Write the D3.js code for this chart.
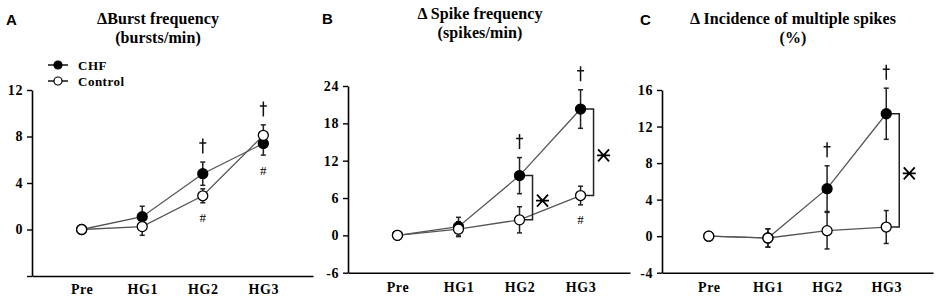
<!DOCTYPE html>
<html lang="en">
<head>
<meta charset="UTF-8">
<title>Delta MSNA responses during handgrip</title>
<style>
  body { margin: 0; background: #fff; }
  .serif { font-family: "Liberation Serif", "Times New Roman", serif; font-weight: bold; }
  .letter { font-family: "Liberation Sans", Arial, sans-serif; font-weight: bold; }
</style>
</head>
<body>
<div id="my_dataviz"></div>

<script src="https://d3js.org/d3.v7.min.js"></script>
<script>
// categories on the x axis
const categories = ["Pre", "HG1", "HG2", "HG3"];

// A: burst frequency (bursts/min)
const burstCHF = [0, 1.1, 4.8, 7.4];
const burstCHFErr = [0, 0.9, 1.0, 1.0];
const burstControl = [0, 0.25, 2.9, 8.1];
const burstControlErr = [0, 0.75, 0.6, 0.9];
const burstTicks = [-4, 0, 4, 8, 12];
const burstDaggers = ["HG2", "HG3"];
const burstHashes = ["HG2", "HG3"];
const burstBrackets = [];

// B: spike frequency (spikes/min)
const spikeCHF = [0, 1.4, 9.6, 20.3];
const spikeCHFErr = [0, 1.5, 2.9, 3.1];
const spikeControl = [0, 1.0, 2.5, 6.4];
const spikeControlErr = [0, 1.2, 2.1, 1.5];
const spikeTicks = [-6, 0, 6, 12, 18, 24];
const spikeDaggers = ["HG2", "HG3"];
const spikeHashes = ["HG3"];
const spikeBrackets = ["HG2", "HG3"];

// C: incidence of multiple spikes (%)
const multiCHF = [0, -0.2, 5.2, 13.4];
const multiCHFErr = [0, 1.0, 2.5, 2.8];
const multiControl = [0, -0.2, 0.6, 1.0];
const multiControlErr = [0, 1.0, 2.0, 1.8];
const multiTicks = [-4, 0, 4, 8, 12, 16];
const multiDaggers = ["HG2", "HG3"];
const multiHashes = [];
const multiBrackets = ["HG3"];

const panels = [
  { letter: "A", title: ["\u0394Burst frequency", "(bursts/min)"],
    chf: burstCHF, chfErr: burstCHFErr, ctl: burstControl, ctlErr: burstControlErr,
    ticks: burstTicks, hidden: [-4], daggers: burstDaggers, hashes: burstHashes, brackets: burstBrackets,
    legend: true },
  { letter: "B", title: ["\u0394 Spike frequency", "(spikes/min)"],
    chf: spikeCHF, chfErr: spikeCHFErr, ctl: spikeControl, ctlErr: spikeControlErr,
    ticks: spikeTicks, hidden: [], daggers: spikeDaggers, hashes: spikeHashes, brackets: spikeBrackets,
    legend: false },
  { letter: "C", title: ["\u0394 Incidence of multiple spikes", "(%)"],
    chf: multiCHF, chfErr: multiCHFErr, ctl: multiControl, ctlErr: multiControlErr,
    ticks: multiTicks, hidden: [], daggers: multiDaggers, hashes: multiHashes, brackets: multiBrackets,
    legend: false }
];

// where each panel sits on the page
const layouts = [
  { left: 32, right: 313, top: 90, bottom: 276, pad: 0.82, lx: 6, ly: 25, tx: 158, ty: 24, xpad: 8 },
  { left: 348, right: 630, top: 86, bottom: 272.7, pad: 0.81, lx: 322, ly: 24, tx: 480, ty: 19, xpad: 9 },
  { left: 662, right: 933, top: 90, bottom: 272.7, pad: 0.79, lx: 640, ly: 25, tx: 793, ty: 24, xpad: 9 }
];

const svg = d3.select("#my_dataviz")
  .append("svg")
    .attr("width", 939)
    .attr("height", 300);

svg.append("rect").attr("width", 939).attr("height", 300).attr("fill", "#fff");

function asterisk(g, cx, cy) {
  g.append("path").attr("transform", `translate(${cx},${cy})`)
    .attr("d", "M-6.5,0H6.5M-5.5,-6L5.5,6M-5.5,6L5.5,-6")
    .attr("stroke", "#000").attr("stroke-width", 1.8).attr("fill", "none");
}

function dagger(g, cx, cy) {
  g.append("path").attr("transform", `translate(${cx},${cy})`)
    .attr("d", "M0,-7.5V7.5M-3.5,-3H3.5")
    .attr("stroke", "#111").attr("stroke-width", 1.5).attr("fill", "none");
}

panels.forEach(function(p, i) {
  const L = layouts[i];
  const g = svg.append("g");

  const x = d3.scalePoint()
    .domain(categories)
    .range([L.left, L.right])
    .padding(L.pad);

  const y = d3.scaleLinear()
    .domain([p.ticks[0], p.ticks[p.ticks.length - 1]])
    .range([L.bottom, L.top]);

  // panel letter and title
  g.append("text").attr("class", "letter").attr("x", L.lx).attr("y", L.ly)
    .style("font-size", "15px").text(p.letter);
  p.title.forEach(function(t, k) {
    g.append("text").attr("class", "serif")
      .attr("x", L.tx).attr("y", L.ty + k * 18.5)
      .attr("text-anchor", "middle")
      .style("font-size", "16px").style("letter-spacing", "0.1px")
      .text(t);
  });

  // axes
  const yAxis = g.append("g")
    .attr("transform", `translate(${L.left},0)`)
    .call(d3.axisLeft(y).tickValues(p.ticks).tickSize(5).tickSizeOuter(0).tickPadding(4)
      .tickFormat(d => p.hidden.includes(d) ? "" : d));
  const xAxis = g.append("g")
    .attr("transform", `translate(0,${L.bottom})`)
    .call(d3.axisBottom(x).tickSize(0).tickSizeOuter(0).tickPadding(L.xpad));
  [yAxis, xAxis].forEach(function(a) {
    a.select(".domain").attr("stroke", "#000").attr("stroke-width", 1.6);
    a.selectAll(".tick line").attr("stroke", "#000").attr("stroke-width", 1.4);
    a.selectAll("text").attr("class", "serif").attr("fill", "#000")
      .style("font-size", "14px").style("letter-spacing", "0.6px");
  });

  const series = [
    { v: p.chf, e: p.chfErr, fill: "#000" },
    { v: p.ctl, e: p.ctlErr, fill: "#fff" }
  ];

  const line = d3.line()
    .x((d, j) => x(categories[j]))
    .y(d => y(d));

  // connecting lines
  series.forEach(function(s) {
    g.append("path").datum(s.v)
      .attr("d", line)
      .attr("fill", "none").attr("stroke", "#555").attr("stroke-width", 1.3);
  });

  // error bars
  series.forEach(function(s) {
    const eb = g.append("g").attr("stroke", "#222").attr("stroke-width", 1.5);
    categories.forEach(function(c, j) {
      if (!s.e[j]) return;
      const cx = x(c), y1 = y(s.v[j] + s.e[j]), y2 = y(s.v[j] - s.e[j]);
      eb.append("line").attr("x1", cx).attr("x2", cx).attr("y1", y1).attr("y2", y2);
      eb.append("line").attr("x1", cx - 2.5).attr("x2", cx + 2.5).attr("y1", y1).attr("y2", y1);
      eb.append("line").attr("x1", cx - 2.5).attr("x2", cx + 2.5).attr("y1", y2).attr("y2", y2);
    });
  });

  // brackets between groups
  p.brackets.forEach(function(c) {
    const j = categories.indexOf(c);
    const cx = x(c), bx = cx + 13;
    const yA = y(p.chf[j]), yB = y(p.ctl[j]);
    g.append("path")
      .attr("d", `M${cx + 5},${yA}H${bx}V${yB}H${cx + 5}`)
      .attr("fill", "none").attr("stroke", "#222").attr("stroke-width", 1.5);
    asterisk(g, bx + 10, (yA + yB) / 2 + 3);
  });

  // markers
  series.forEach(function(s) {
    g.selectAll(null).data(s.v).join("circle")
      .attr("cx", (d, j) => x(categories[j]))
      .attr("cy", d => y(d))
      .attr("r", 5)
      .attr("fill", s.fill).attr("stroke", "#000").attr("stroke-width", 1.3);
  });

  // significance symbols
  p.daggers.forEach(function(c) {
    const j = categories.indexOf(c);
    const top = Math.max(p.chf[j] + p.chfErr[j], p.ctl[j] + p.ctlErr[j]);
    dagger(g, x(c), y(top) - 16);
  });
  p.hashes.forEach(function(c) {
    const j = categories.indexOf(c);
    const bot = Math.min(p.chf[j] - p.chfErr[j], p.ctl[j] - p.ctlErr[j]);
    g.append("text").attr("x", x(c)).attr("y", y(bot) + 15)
      .attr("text-anchor", "middle").attr("dominant-baseline", "central")
      .attr("fill", "#000")
      .style("font-family", "'Liberation Serif', serif").style("font-size", "13px")
      .text("#");
  });

  // legend (panel A only)
  if (p.legend) {
    const items = [{ label: "CHF", fill: "#000" }, { label: "Control", fill: "#fff" }];
    items.forEach(function(it, k) {
      const ly = 65 + k * 16;
      g.append("line").attr("x1", 48).attr("x2", 68).attr("y1", ly).attr("y2", ly)
        .attr("stroke", "#000").attr("stroke-width", 1.4);
      g.append("circle").attr("cx", 58).attr("cy", ly).attr("r", 4)
        .attr("fill", it.fill).attr("stroke", "#000").attr("stroke-width", 1.2);
      g.append("text").attr("class", "serif").attr("x", 78).attr("y", ly + 4.5)
        .style("font-size", "13px").style("letter-spacing", "0.5px")
        .text(it.label);
    });
  }
});
</script>
</body>
</html>
